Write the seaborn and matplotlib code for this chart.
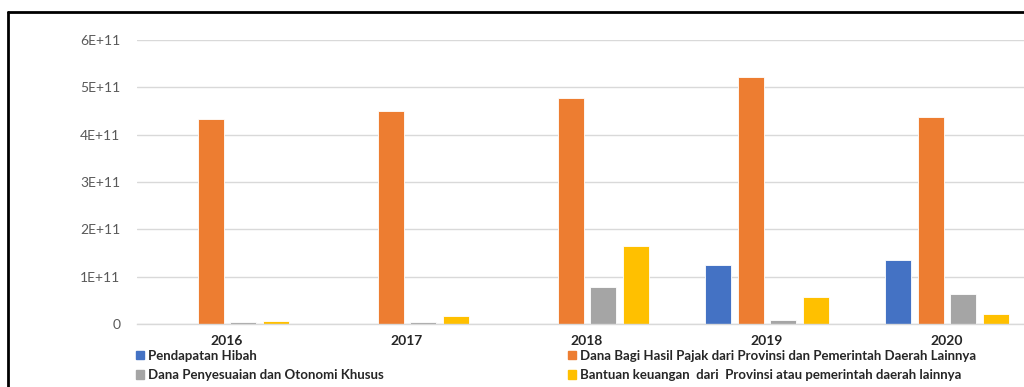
import pandas as pd
import numpy as np
import matplotlib.pyplot as plt
import seaborn as sns
from matplotlib.lines import Line2D
from matplotlib.ticker import FuncFormatter

sns.set_theme(style="white")
plt.rcParams['font.family'] = ['Lato', 'DejaVu Sans']

# -------------------------
#  Data
# -------------------------
years = ["2016", "2017", "2018", "2019", "2020"]
series = [
    "Pendapatan Hibah",
    "Dana Bagi Hasil Pajak dari Provinsi dan Pemerintah Daerah Lainnya",
    "Dana Penyesuaian dan Otonomi Khusus",
    "Bantuan keuangan  dari  Provinsi atau pemerintah daerah lainnya",
]
hibah = [0, 0, 0, 1.25e11, 1.36e11]
bagi_hasil = [4.33e11, 4.49e11, 4.78e11, 5.21e11, 4.38e11]
penyesuaian = [0.04e11, 0.05e11, 0.78e11, 0.09e11, 0.64e11]
bantuan = [0.06e11, 0.17e11, 1.65e11, 0.58e11, 0.22e11]
colors = ["#4472C4", "#ED7D31", "#A5A5A5", "#FFC000"]

df = pd.DataFrame({"Tahun": years * 4,
                   "Seri": np.repeat(series, len(years)),
                   "Nilai": hibah + bagi_hasil + penyesuaian + bantuan})

# -------------------------
#  Plot
# -------------------------
fig = plt.figure(figsize=(10.24, 3.87), dpi=100)
ax = fig.add_axes([137 / 1024, 1 - 324 / 387, 900 / 1024, 284 / 387])

sns.barplot(data=df, x="Tahun", y="Nilai", hue="Seri", palette=colors,
            saturation=1, width=0.72, gap=0.2, edgecolor="white", linewidth=0.6,
            legend=False, ax=ax)

ax.set_xlim(-0.5, 4.5)
ax.set_ylim(0, 6e11)
ax.set_yticks(np.arange(0, 7e11, 1e11))
ax.yaxis.set_major_formatter(FuncFormatter(
    lambda v, p: "0" if v == 0 else f"{int(round(v / 1e11))}E+11"))
ax.grid(axis="y", color="#d9d9d9", linewidth=1)
ax.set_axisbelow(True)
for s in ["top", "right", "left"]:
    ax.spines[s].set_visible(False)
ax.spines["bottom"].set_color("#d9d9d9")
ax.spines["bottom"].set_linewidth(1)
ax.tick_params(axis="y", length=0, labelsize=10, labelcolor="#595959", pad=12)
ax.tick_params(axis="x", length=0, labelsize=10, pad=8)
for t in ax.get_xticklabels():
    t.set_fontweight("bold")
    t.set_color("#262626")
ax.set_xlabel("")
ax.set_ylabel("")

# legend, two columns filled column-wise
order = [0, 2, 1, 3]
handles = [plt.Rectangle((0, 0), 1, 1, color=colors[i]) for i in order]
labels = [series[i] for i in order]
fig.legend(handles, labels, ncol=2, loc="upper left",
           bbox_to_anchor=(124 / 1024, 1 - 338 / 387), frameon=False,
           handlelength=0.6, handleheight=0.6, handletextpad=0.3,
           columnspacing=14.0, labelspacing=0.55,
           prop={"size": 9.5, "weight": "bold"}, labelcolor="#262626")

# outer frame (cropped screenshot border)
fig.add_artist(Line2D([8 / 1024, 8 / 1024], [0, 1 - 12 / 387], color="black", lw=2))
fig.add_artist(Line2D([8 / 1024, 1], [1 - 12 / 387, 1 - 12 / 387], color="black", lw=2))

fig.savefig("out.png", dpi=100)
